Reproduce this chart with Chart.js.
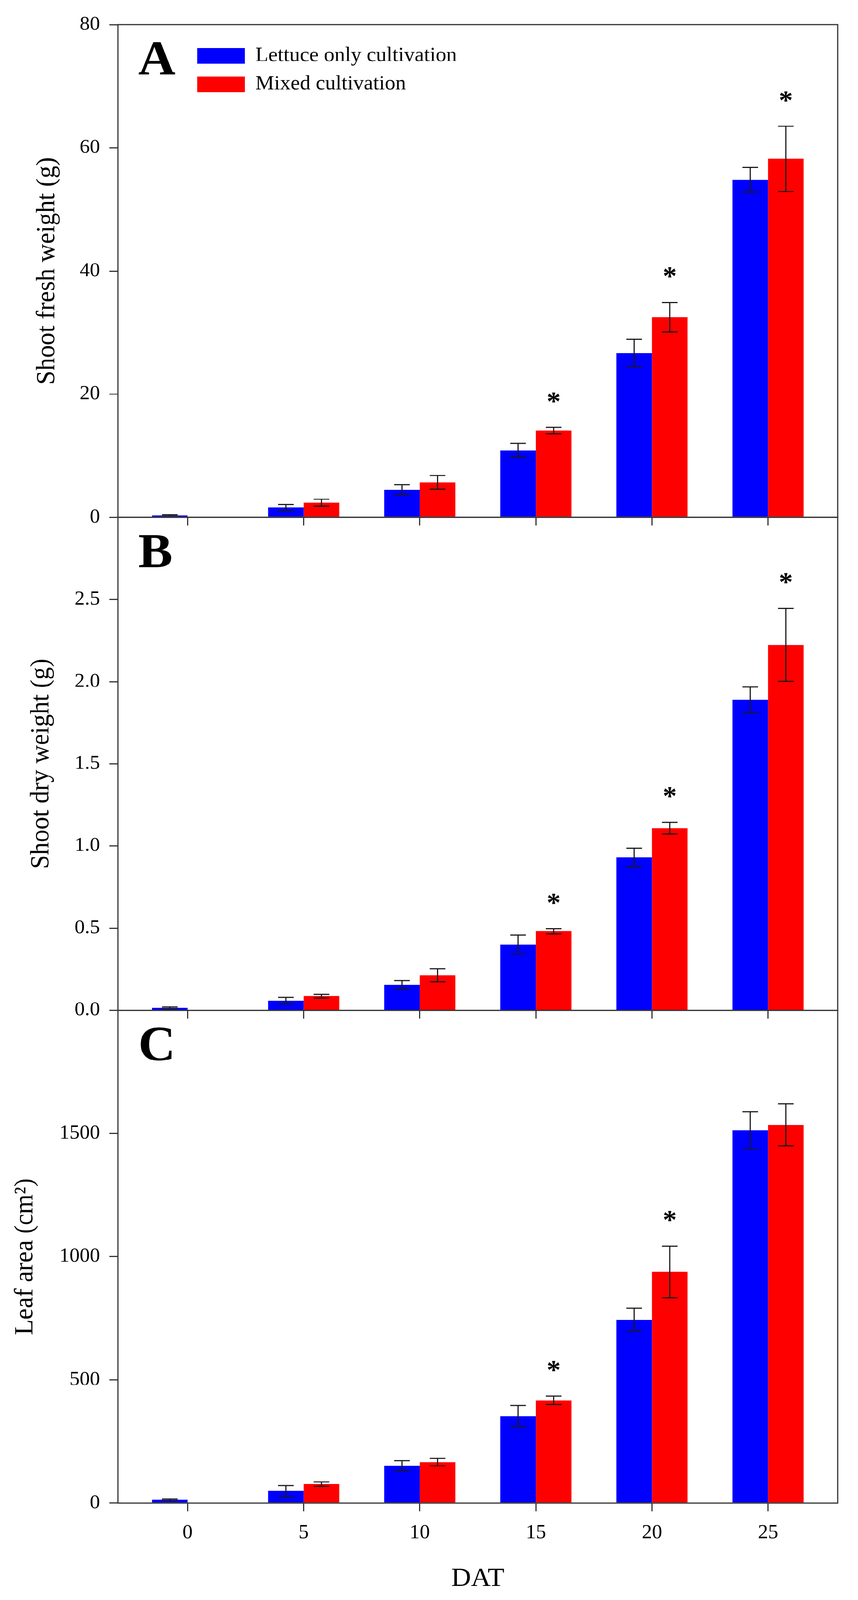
<!DOCTYPE html>
<html>
<head>
<meta charset="utf-8">
<title>Lettuce growth</title>
<script src="https://cdn.jsdelivr.net/npm/chart.js@4.4.0/dist/chart.umd.min.js"></script>
<style>
  html, body { margin: 0; padding: 0; background: #fff; overflow: hidden; }
  #wrap { position: relative; width: 2197px; height: 4293px; transform-origin: 0 0; }
  #wrap canvas { position: absolute; left: 0; top: 0; }
</style>
</head>
<body>
<div id="wrap">
  <canvas id="panelA" width="2197" height="4293"></canvas>
  <canvas id="panelB" width="2197" height="4293"></canvas>
  <canvas id="panelC" width="2197" height="4293"></canvas>
</div>
<script>
// days after transplanting
var days = [0, 5, 10, 15, 20, 25];
var dayLabels = ['0', '5', '10', '15', '20', '25'];
var seriesNames = ['Lettuce only cultivation', 'Mixed cultivation'];

// A - shoot fresh weight (g)
var lettuceFresh    = [0.35, 1.6, 4.5, 10.9, 26.7, 54.8];
var lettuceFreshErr = [0.1, 0.5, 0.8, 1.1, 2.2, 2.0];
var mixedFresh      = [null, 2.4, 5.7, 14.1, 32.5, 58.2];
var mixedFreshErr   = [null, 0.55, 1.1, 0.5, 2.4, 5.3];
var freshSig        = [false, false, false, true, true, true];
var freshTicks      = [0, 20, 40, 60, 80];
var freshTickLabels = ['0', '20', '40', '60', '80'];

// B - shoot dry weight (g)
var lettuceDry    = [0.015, 0.058, 0.155, 0.40, 0.93, 1.89];
var lettuceDryErr = [0.005, 0.02, 0.025, 0.058, 0.057, 0.078];
var mixedDry      = [null, 0.086, 0.213, 0.481, 1.108, 2.224];
var mixedDryErr   = [null, 0.012, 0.04, 0.016, 0.036, 0.222];
var drySig        = [false, false, false, true, true, true];
var dryTicks      = [0, 0.5, 1.0, 1.5, 2.0, 2.5, 3.0];
var dryTickLabels = ['0.0', '0.5', '1.0', '1.5', '2.0', '2.5', ''];

// C - leaf area (cm2)
var lettuceArea    = [13, 49, 152, 353, 744, 1513];
var lettuceAreaErr = [3, 22, 20, 43, 47, 75];
var mixedArea      = [null, 77, 166, 417, 938, 1535];
var mixedAreaErr   = [null, 9, 15, 17, 105, 85];
var areaSig        = [false, false, false, true, true, false];
var areaTicks      = [0, 500, 1000, 1500, 2000];
var areaTickLabels = ['0', '500', '1000', '1500', ''];

// page layout
var pageW = 2197, pageH = 4293;
var plotLeft = 302, plotRight = 2145;
var firstTop = 66, panelH = 1322.3;
var xAxisH = 260;
var lineCol = '#333';

// the visible window can be shorter than the figure: squeeze it to fit
var fit = Math.min(1, window.innerHeight / pageH);
if (fit < 1) {
  document.getElementById('wrap').style.transform = 'scale(1,' + fit + ')';
}

Chart.defaults.font.family = "'Liberation Serif', 'Times New Roman', serif";
Chart.defaults.color = '#000';

var decor = {
  id: 'decor',
  afterDatasetsDraw: function(chart, args, opts) {
    var ctx = chart.ctx;
    var area = chart.chartArea;
    var y = chart.scales.y;
    ctx.save();

    // frame
    ctx.strokeStyle = lineCol;
    ctx.lineWidth = 3;
    ctx.strokeRect(area.left, area.top, area.right - area.left, area.bottom - area.top);

    // error bars and asterisks
    chart.data.datasets.forEach(function(ds, di) {
      var meta = chart.getDatasetMeta(di);
      meta.data.forEach(function(bar, i) {
        var v = ds.data[i].y, e = ds.errors[i];
        if (v == null || e == null) return;
        var yTop = y.getPixelForValue(v + e);
        var yBot = y.getPixelForValue(v - e);
        ctx.strokeStyle = '#1a1a1a';
        ctx.lineWidth = 3;
        ctx.beginPath();
        ctx.moveTo(bar.x, yTop); ctx.lineTo(bar.x, yBot);
        ctx.moveTo(bar.x - 20, yTop); ctx.lineTo(bar.x + 20, yTop);
        ctx.moveTo(bar.x - 20, yBot); ctx.lineTo(bar.x + 20, yBot);
        ctx.stroke();
        if (ds.significant && ds.significant[i]) {
          ctx.fillStyle = '#000';
          ctx.font = "bold 72px 'Liberation Serif'";
          ctx.textAlign = 'center';
          ctx.textBaseline = 'alphabetic';
          var m = ctx.measureText('*');
          var cy = yTop - 80;
          ctx.fillText('*', bar.x, cy + (m.actualBoundingBoxAscent - m.actualBoundingBoxDescent) / 2);
        }
      });
    });

    // panel letter
    ctx.fillStyle = '#000';
    ctx.textAlign = 'left';
    ctx.textBaseline = 'alphabetic';
    ctx.font = "bold 132px 'Liberation Serif'";
    ctx.fillText(opts.letter, area.left + 52, area.top + 134);

    // legend
    if (opts.legend) {
      ctx.font = "54px 'Liberation Serif'";
      ctx.textBaseline = 'middle';
      chart.data.datasets.forEach(function(ds, di) {
        var by = area.top + 63 + di * 76;
        ctx.fillStyle = ds.backgroundColor;
        ctx.fillRect(area.left + 203, by, 122, 42);
        ctx.fillStyle = '#000';
        ctx.fillText(ds.label, area.left + 352, by + 21);
      });
    }
    ctx.restore();
  }
};

function points(vals) {
  return days.map(function(d, i) { return { x: d, y: vals[i] }; });
}

function makePanel(id, idx, opts) {
  var top = firstTop + idx * panelH;
  var isBottom = idx === 2;
  var ticks = opts.ticks, labels = opts.labels;
  return new Chart(document.getElementById(id), {
    type: 'bar',
    data: {
      datasets: [
        { label: seriesNames[0], data: points(opts.lettuce), errors: opts.lettuceErr,
          backgroundColor: '#0000ff', borderWidth: 0 },
        { label: seriesNames[1], data: points(opts.mixed), errors: opts.mixedErr,
          significant: opts.sig, backgroundColor: '#ff0000', borderWidth: 0 }
      ]
    },
    options: {
      responsive: false,
      animation: false,
      devicePixelRatio: 1,
      events: [],
      barPercentage: 1.0,
      categoryPercentage: 0.613,
      layout: { padding: { left: 0, top: top, right: pageW - plotRight,
                           bottom: pageH - (top + panelH) - xAxisH } },
      plugins: {
        legend: { display: false },
        tooltip: { enabled: false },
        decor: { letter: opts.letter, legend: idx === 0 }
      },
      scales: {
        x: {
          type: 'linear', min: -3, max: 28, offset: false,
          afterBuildTicks: function(s) { s.ticks = days.map(function(v) { return { value: v }; }); },
          afterFit: function(s) { s.height = xAxisH; },
          grid: { offset: false, drawOnChartArea: false, drawTicks: true, tickLength: 22,
                  color: lineCol, lineWidth: 3 },
          border: { display: false },
          ticks: { display: isBottom, padding: 27, font: { size: 52 }, maxRotation: 0, autoSkip: false,
                   callback: function(v, i) { return dayLabels[i]; } },
          title: { display: isBottom, text: 'DAT', font: { size: 70 }, padding: { bottom: 14 } }
        },
        y: {
          min: ticks[0], max: ticks[ticks.length - 1],
          afterBuildTicks: function(s) { s.ticks = ticks.map(function(v) { return { value: v }; }); },
          afterFit: function(s) { s.width = plotLeft; },
          grid: { drawOnChartArea: false, drawTicks: true, tickLength: 22, color: lineCol, lineWidth: 3 },
          border: { display: false },
          ticks: { padding: 24, font: { size: 52 },
                   callback: function(v, i) { return labels[i]; } },
          title: { display: true, text: opts.title, font: { size: 68 }, padding: { top: opts.titlePad } }
        }
      }
    },
    plugins: [decor]
  });
}

makePanel('panelA', 0, {
  letter: 'A', title: 'Shoot fresh weight (g)', titlePad: 80,
  lettuce: lettuceFresh, lettuceErr: lettuceFreshErr,
  mixed: mixedFresh, mixedErr: mixedFreshErr, sig: freshSig,
  ticks: freshTicks, labels: freshTickLabels
});
makePanel('panelB', 1, {
  letter: 'B', title: 'Shoot dry weight (g)', titlePad: 65,
  lettuce: lettuceDry, lettuceErr: lettuceDryErr,
  mixed: mixedDry, mixedErr: mixedDryErr, sig: drySig,
  ticks: dryTicks, labels: dryTickLabels
});
makePanel('panelC', 2, {
  letter: 'C', title: 'Leaf area (cm²)', titlePad: 24,
  lettuce: lettuceArea, lettuceErr: lettuceAreaErr,
  mixed: mixedArea, mixedErr: mixedAreaErr, sig: areaSig,
  ticks: areaTicks, labels: areaTickLabels
});
</script>
</body>
</html>
